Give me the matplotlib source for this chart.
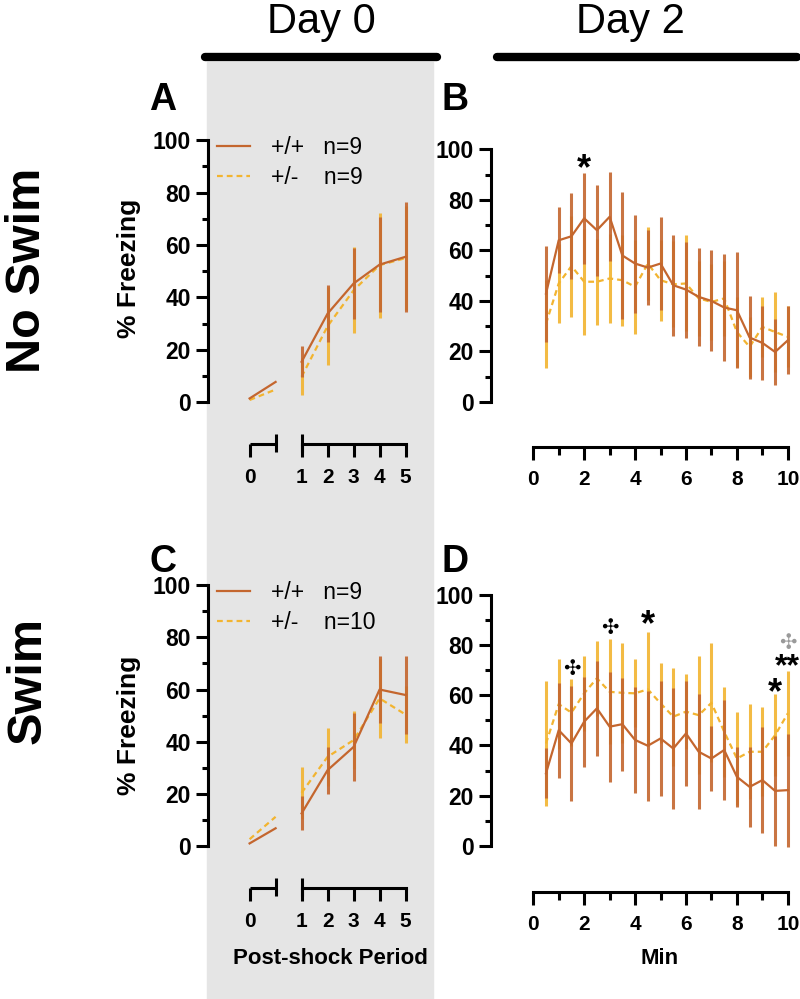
import matplotlib
matplotlib.use("Agg")
import matplotlib.pyplot as plt
import matplotlib.transforms as mtransforms
from matplotlib.lines import Line2D
from matplotlib.patches import Rectangle
from matplotlib.ticker import FixedLocator

plt.rcParams['font.family'] = ['Liberation Sans', 'DejaVu Sans']

WT_COLOR = "#C4662E"
HET_COLOR = "#F2B430"

# ---- Day 0: post-shock periods (period 0 = baseline segment) ----
base_pos = [0, 1]
periods = [1, 2, 3, 4, 5]
period_pos = [2, 3, 4, 5, 6]

a_wt_base = [1.4, 7.7]
a_het_base = [0.8, 4.8]
a_wt = [15.4, 33.8, 45.3, 52.5, 55.5]
a_wt_err = [6, 11, 13.7, 18, 21]
a_het = [9.7, 29, 42.7, 52.3, 55]
a_het_err = [7, 15, 16.5, 20, 20]

c_wt_base = [1.0, 6.8]
c_het_base = [2.6, 11.2]
c_wt = [12.5, 29.1, 38, 60, 57.9]
c_wt_err = [6.5, 9, 13, 13, 15]
c_het = [20.4, 34.2, 40.6, 56.6, 50.4]
c_het_err = [10, 11, 11, 15, 11]

# ---- Day 2: minutes ----
minutes = [0.5, 1.0, 1.5, 2.0, 2.5, 3.0, 3.5, 4.0, 4.5, 5.0,
           5.5, 6.0, 6.5, 7.0, 7.5, 8.0, 8.5, 9.0, 9.5, 10.0]

b_wt = [42.9, 64, 65.6, 72.7, 68, 73.3, 58, 54.8, 53.2, 54.8,
        46.2, 44.5, 41.6, 40, 37.4, 36.3, 25.5, 23.4, 19.8, 24.4]
b_wt_err = [19, 13, 17, 18, 18, 17.6, 25, 19.4, 15, 18.5,
            20, 19, 19.4, 20, 21, 23, 16.5, 14.6, 13, 13.5]
b_het = [31, 46.9, 53.8, 47.6, 47.6, 48.9, 48.2, 45.6, 54.8, 48.2,
         46.6, 46.9, 41, 39.6, 41, 27.7, 21.8, 29.7, 27.7, 25.8]
b_het_err = [17.4, 15.5, 20, 21, 17, 17.6, 18, 18.6, 14.6, 16,
             17, 19, 15, 15, 15, 14, 12, 12, 16, 12]

d_wt = [28.9, 46.1, 40.8, 49.5, 54.8, 47.5, 48.5, 42.2, 39.9, 42.8,
        38.8, 44.8, 37.5, 34.8, 38.2, 27.5, 23.5, 26.2, 21.9, 22.2]
d_wt_err = [10, 19, 23, 18, 19, 22, 18.5, 21, 22, 23,
            24, 21, 23, 13, 20, 12, 16, 21, 22, 22.5]
d_het = [40.8, 56.5, 53.1, 60.8, 66.8, 61.4, 61, 60.8, 62.4, 56.8,
         51.5, 53.5, 52.1, 57, 45.5, 34.8, 37.5, 37.5, 44.1, 52.8]
d_het_err = [25, 18, 13.4, 15, 15, 21, 20, 13.5, 22.7, 16,
             19.5, 15, 23.5, 23.7, 18, 18.4, 19, 17.7, 16.3, 17]

# significance marks: (minute, y, symbol, colour)
b_marks = [(2.0, 92, "*", "black")]
d_marks = [(1.5, 70.3, "\u2723", "black"), (3.0, 86.8, "\u2723", "black"),
           (4.5, 87.6, "*", "black"), (9.5, 60.8, "*", "black"),
           (10.0, 71, "**", "black"), (10.0, 80.5, "\u2723", "#9A9A9A")]

W, H = 800, 999


def fx(x):
    return x / W


def fy(y):
    return 1 - y / H


fig = plt.figure(figsize=(8, 9.99), dpi=100)

# grey Day 0 band
fig.patches.append(Rectangle((fx(207), 0), fx(433) - fx(207), fy(62),
                             transform=fig.transFigure, color="#E5E5E5", zorder=-10))

fig.add_artist(Line2D([fx(205), fx(437)], [fy(57), fy(57)], lw=6, color="black",
                      solid_capstyle="round"))
fig.add_artist(Line2D([fx(497), fx(797)], [fy(57), fy(57)], lw=6, color="black",
                      solid_capstyle="round"))
fig.text(fx(321), fy(22), "Day 0", ha="center", va="center", fontsize=30)
fig.text(fx(630), fy(22), "Day 2", ha="center", va="center", fontsize=30)

fig.text(fx(28), fy(270), "No Swim", rotation=90, ha="center", va="center",
         fontsize=35, fontweight="bold")
fig.text(fx(28), fy(680), "Swim", rotation=90, ha="center", va="center",
         fontsize=35, fontweight="bold")

for lbl, (x, y) in zip("ABCD", [(163, 100), (455, 100), (163, 562), (455, 562)]):
    fig.text(fx(x), fy(y), lbl, ha="center", va="center", fontsize=27, fontweight="bold")


def style_axes(ax):
    ax.set_facecolor("none")
    for s in ["top", "right"]:
        ax.spines[s].set_visible(False)
    for s in ["left", "bottom"]:
        ax.spines[s].set_linewidth(2.2)
    ax.spines["left"].set_bounds(0, 100)
    ax.set_yticks(range(0, 101, 20))
    ax.yaxis.set_minor_locator(FixedLocator([10, 30, 50, 70, 90]))
    ax.tick_params(which="major", length=9, width=2.2, labelsize=16.5)
    ax.tick_params(which="minor", length=4.5, width=2.2)
    ax.tick_params(axis="x", which="major", length=9, labelsize=15, pad=8)
    ax.tick_params(axis="x", which="minor", length=5.5)
    for t in ax.get_yticklabels():
        t.set_fontweight("bold")


def draw_series(ax, x, y, err, color, ls, z):
    ax.errorbar(x, y, yerr=err, fmt="none", ecolor=color, elinewidth=2.2,
                capsize=0, alpha=0.9, zorder=z)
    ax.plot(x, y, color=color, lw=1.6, ls=ls, dashes=(2.6, 1.8) if ls == "--" else (None, None),
            zorder=z + 0.5)


def day0_panel(rect, ybot, wt_base, het_base, wt, wt_err, het, het_err, n_het, ylab_y):
    ax = fig.add_axes(rect)
    style_axes(ax)
    ax.set_xlim(-1.6, 6.4)
    ax.set_ylim(ybot, 102)
    ax.plot(base_pos, het_base, color=HET_COLOR, lw=1.6, dashes=(2.6, 1.8), zorder=3)
    ax.plot(base_pos, wt_base, color=WT_COLOR, lw=1.6, zorder=4)
    draw_series(ax, period_pos, het, het_err, HET_COLOR, "--", 2)
    draw_series(ax, period_pos, wt, wt_err, WT_COLOR, "-", 4)
    ax.spines["bottom"].set_bounds(period_pos[0], period_pos[-1])
    ax.set_xticks([base_pos[0]] + period_pos)
    ax.set_xticklabels(["0"] + [str(p) for p in periods], fontweight="bold")
    trans = mtransforms.blended_transform_factory(ax.transData, ax.transAxes)
    ax.plot(base_pos, [0, 0], color="black", lw=2.2, transform=trans, clip_on=False,
            solid_capstyle="butt")
    for xc in [base_pos[1], period_pos[0]]:
        ax.plot([xc, xc], [-0.026, 0.032], color="black", lw=2.2, transform=trans,
                clip_on=False, solid_capstyle="butt")
    ax.set_ylabel("% Freezing", fontsize=19, fontweight="bold")
    ax.yaxis.set_label_coords(fx(141), fy(ylab_y), transform=fig.transFigure)
    handles = [Line2D([], [], color=WT_COLOR, lw=1.6),
               Line2D([], [], color=HET_COLOR, lw=1.6, dashes=(2.6, 1.8))]
    ax.legend(handles, ["+/+   n=9", "+/-    n=%d" % n_het], loc="upper left",
              bbox_to_anchor=(0.0, 1.025), frameon=False, fontsize=16.5,
              handlelength=1.45, handletextpad=0.9, labelspacing=0.28, borderaxespad=0)
    return ax


def day2_panel(rect, ybot, wt, wt_err, het, het_err, marks):
    ax = fig.add_axes(rect)
    style_axes(ax)
    ax.set_xlim(-1.66, 10.4)
    ax.set_ylim(ybot, 102)
    draw_series(ax, minutes, het, het_err, HET_COLOR, "--", 2)
    draw_series(ax, minutes, wt, wt_err, WT_COLOR, "-", 4)
    ax.spines["bottom"].set_bounds(0, 10)
    ax.set_xticks(range(0, 11, 2))
    ax.xaxis.set_minor_locator(FixedLocator(range(1, 10, 2)))
    for t in ax.get_xticklabels():
        t.set_fontweight("bold")
    for x, y, s, c in marks:
        fs = {"*": 26, "**": 23}.get(s, 15)
        ax.text(x, y, s, ha="center", va="center", fontsize=fs, fontweight="bold",
                color=c, zorder=6)
    return ax


ax_a = day0_panel([fx(208), fy(444), 208 / W, 309 / H], -16, a_wt_base, a_het_base,
                  a_wt, a_wt_err, a_het, a_het_err, 9, 268)
ax_c = day0_panel([fx(208), fy(888), 208 / W, 308 / H], -16.1, c_wt_base, c_het_base,
                  c_wt, c_wt_err, c_het, c_het_err, 10, 725)
ax_c.set_xlabel("Post-shock Period", fontsize=16, fontweight="bold")
ax_c.xaxis.set_label_coords(fx(330), fy(948), transform=fig.transFigure)

ax_b = day2_panel([fx(491), fy(446.7), 307 / W, 302.4 / H], -17.7,
                  b_wt, b_wt_err, b_het, b_het_err, b_marks)
ax_d = day2_panel([fx(491), fy(891.7), 307 / W, 301.7 / H], -18.3,
                  d_wt, d_wt_err, d_het, d_het_err, d_marks)
ax_d.set_xlabel("Min", fontsize=16, fontweight="bold")
ax_d.xaxis.set_label_coords(fx(660), fy(948), transform=fig.transFigure)

fig.savefig("out.png", dpi=100)
